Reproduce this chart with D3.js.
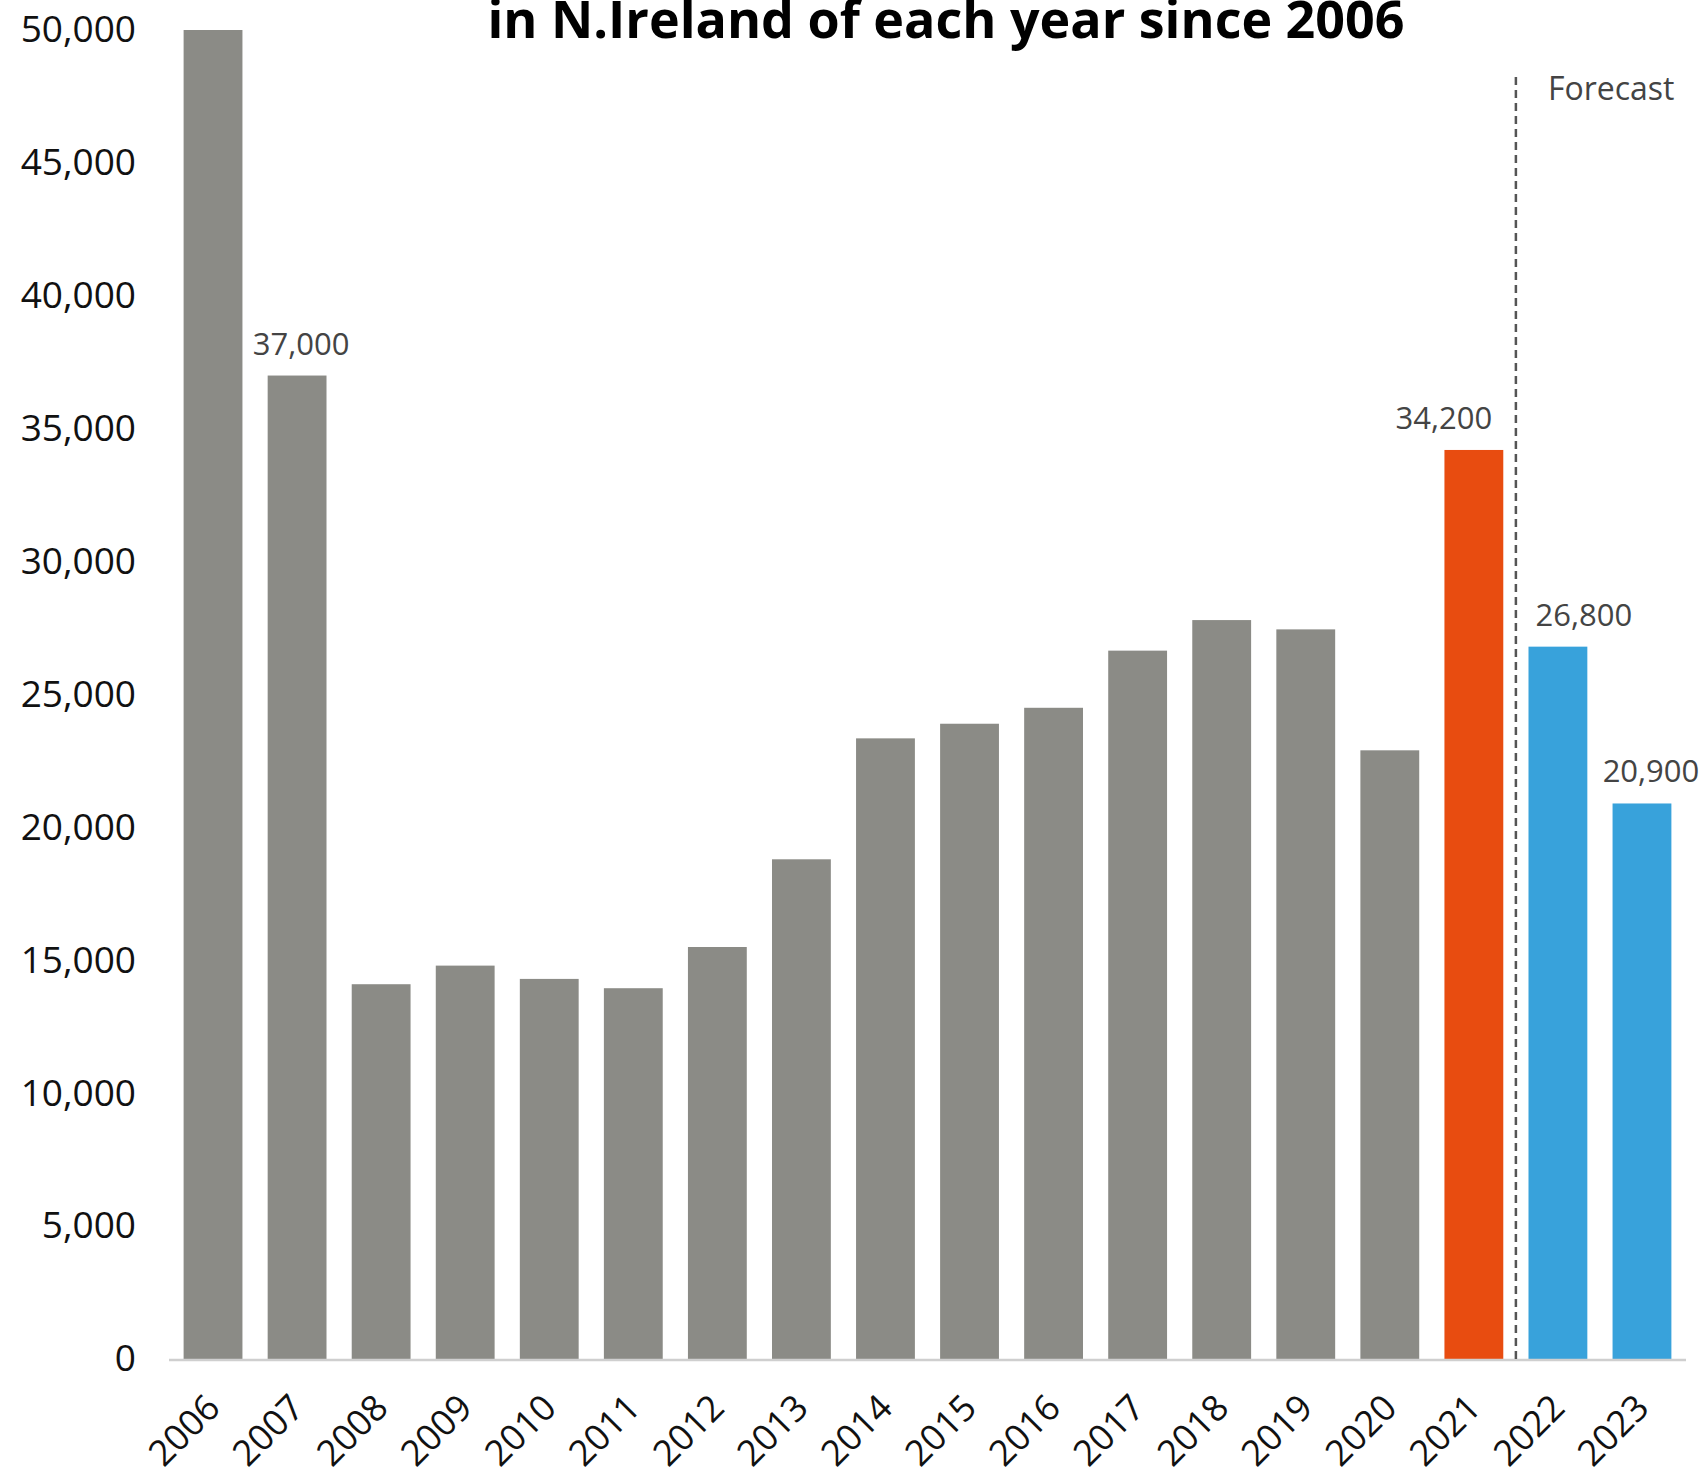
<!DOCTYPE html>
<html>
<head>
<meta charset="utf-8">
<script src="https://cdn.jsdelivr.net/npm/d3@7.9.0/dist/d3.min.js"></script>
<style>
  body { margin: 0; background: #fff; }
  svg { display: block; font-family: "Open Sans", "Noto Sans", sans-serif; }
</style>
</head>
<body>
<svg id="chart" width="1704" height="1474"></svg>
<script>
// data
const years = ["2006", "2007", "2008", "2009", "2010", "2011", "2012", "2013", "2014",
  "2015", "2016", "2017", "2018", "2019", "2020", "2021", "2022", "2023"];
const values = [50000, 37000, 14100, 14800, 14300, 13950, 15500, 18800, 23350,
  23900, 24500, 26650, 27800, 27450, 22900, 34200, 26800, 20900];
const labelledYears = ["2007", "2021", "2022", "2023"];
const forecastYears = ["2022", "2023"];
const highlightYear = "2021";
const yTicks = [0, 5000, 10000, 15000, 20000, 25000, 30000, 35000, 40000, 45000, 50000];
const titleText = "in N.Ireland of each year since 2006";

const data = years.map((y, i) => ({ year: y, value: values[i] }));

const svg = d3.select('#chart');

let x = d3.scaleBand()
  .domain(years)
  .range([171, 1684])
  .paddingInner(0.3)
  .paddingOuter(0.15);

let y = d3.scaleLinear()
  .domain([0, 50000])
  .range([1359, 30]);

const fmt = d3.format(',');

function barColor(d) {
  if (d.year === highlightYear) return '#e84c10';
  if (forecastYears.includes(d.year)) return '#38a2db';
  return '#8b8b86';
}

// title (only the second line is in view)
svg.append('text')
  .attr('x', 946)
  .attr('y', 38)
  .attr('text-anchor', 'middle')
  .attr('font-size', 52)
  .attr('font-weight', 700)
  .attr('fill', '#000')
  .text(titleText);

// bars
svg.selectAll('rect.bar')
  .data(data)
  .enter()
  .append('rect')
  .attr('class', 'bar')
  .attr('x', d => x(d.year))
  .attr('y', d => y(d.value))
  .attr('width', x.bandwidth())
  .attr('height', d => y(0) - y(d.value))
  .attr('fill', barColor);

// baseline
svg.append('line')
  .attr('x1', 169).attr('x2', 1686)
  .attr('y1', y(0) + 1).attr('y2', y(0) + 1)
  .attr('stroke', '#cfcfcf')
  .attr('stroke-width', 2.5);

// y axis labels
let yAxis = d3.axisLeft(y)
  .tickValues(yTicks)
  .tickFormat(fmt)
  .tickSize(0)
  .tickPadding(0);

let yg = svg.append('g')
  .attr('transform', 'translate(136,0)')
  .call(yAxis);
yg.select('.domain').remove();
yg.selectAll('text')
  .attr('font-size', 37)
  .attr('font-weight', 500)
  .attr('font-family', '"Open Sans", sans-serif')
  .attr('fill', '#111');

// x labels, rotated
svg.append('g')
  .selectAll('text')
  .data(years)
  .enter()
  .append('text')
  .attr('transform', d => `translate(${x(d) + x.bandwidth() / 2 + 9},1410) rotate(-45)`)
  .attr('text-anchor', 'end')
  .attr('font-size', 36)
  .attr('font-weight', 500)
  .attr('fill', '#111')
  .text(d => d);

// forecast divider
const divX = (x("2021") + x.bandwidth() + x("2022")) / 2;
svg.append('line')
  .attr('x1', divX).attr('x2', divX)
  .attr('y1', 77).attr('y2', y(0))
  .attr('stroke', '#555')
  .attr('stroke-width', 2.5)
  .attr('stroke-dasharray', '8,5');

svg.append('text')
  .attr('x', divX + 32)
  .attr('y', 100)
  .attr('font-size', 32)
  .attr('fill', '#444')
  .text('Forecast');

// value labels, nudged away from the divider
const labelShift = { "2007": 4, "2021": -30, "2022": 26, "2023": 9 };
svg.append('g')
  .selectAll('text')
  .data(data.filter(d => labelledYears.includes(d.year)))
  .enter()
  .append('text')
  .attr('x', d => x(d.year) + x.bandwidth() / 2 + labelShift[d.year])
  .attr('y', d => y(d.value) - 21)
  .attr('text-anchor', 'middle')
  .attr('font-size', 31)
  .attr('fill', '#444')
  .text(d => fmt(d.value));
</script>
</body>
</html>
